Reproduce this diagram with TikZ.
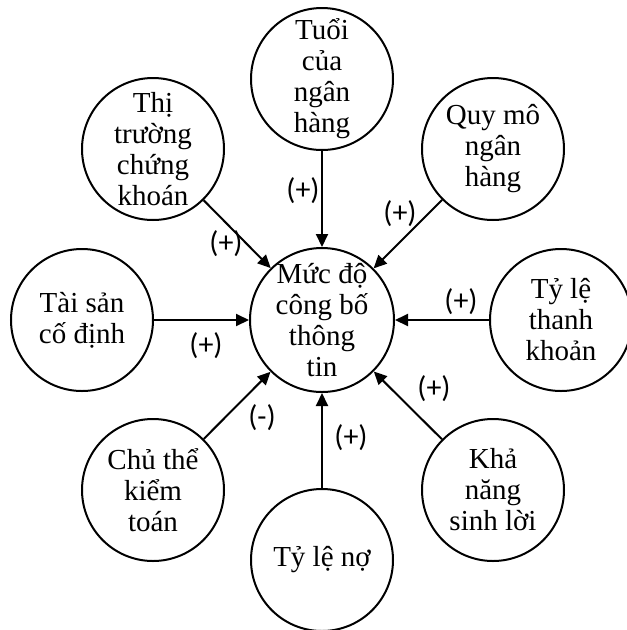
\documentclass[tikz,border=0pt]{standalone}
\usepackage{fontspec}
\setmainfont{Liberation Serif}
\newfontfamily\signfont{Carlito}
\usetikzlibrary{arrows.meta}

\begin{document}
\begin{tikzpicture}[x=1pt,y=-1pt,
  ring/.style={circle, draw, line width=2pt, minimum size=142pt, inner sep=0pt},
  hubring/.style={ring, minimum size=144pt},
  caption/.style={align=center, inner sep=0pt, font=\fontsize{29}{31}\selectfont},
  link/.style={line width=2pt, -{Triangle[length=13pt,width=12pt]}},
  sign/.style={inner sep=0pt, font=\signfont\fontsize{30}{32}\selectfont}]
\useasboundingbox (0,0) rectangle (627,630);

% central factor
\node[hubring] (core) at (322,320) {};
\node[caption] (core-text) at (core.center) {Mức độ\\công bố\\thông\\tin};

% surrounding factors
\node[ring] (age)    at (322,79)  {};
\node[ring] (market) at (153,149) {};
\node[ring] (size)   at (493,149) {};
\node[ring] (assets) at (82,320)  {};
\node[ring] (liquid) at (561,320) {};
\node[ring] (audit)  at (153,490) {};
\node[ring] (debt)   at (322,560) {};
\node[ring] (profit) at (493,490) {};

\node[caption] (age-text)    at (age.center)    {Tuổi\\của\\ngân\\hàng};
\node[caption] (market-text) at (market.center) {Thị\\trường\\chứng\\khoán};
\node[caption] (size-text)   at (size.center)   {Quy mô\\ngân\\hàng};
\node[caption] (assets-text) at (assets.center) {Tài sản\\cố định};
\node[caption] (liquid-text) at (liquid.center) {Tỷ lệ\\thanh\\khoản};
\node[caption] (audit-text)  at (audit.center)  {Chủ thể\\kiểm\\toán};
\node[caption] (debt-text)   at (debt.center)   {Tỷ lệ nợ};
\node[caption] (profit-text) at (profit.center) {Khả\\năng\\sinh lời};

% influences
\draw[link] (age)    -- (core);
\draw[link] (market) -- (core);
\draw[link] (size)   -- (core);
\draw[link] (assets) -- (core);
\draw[link] (liquid) -- (core);
\draw[link] (audit)  -- (core);
\draw[link] (debt)   -- (core);
\draw[link] (profit) -- (core);

% signs of the influences
\node[sign] (s-age)    at (303,191) {(+)};
\node[sign] (s-market) at (226,244) {(+)};
\node[sign] (s-size)   at (400,214) {(+)};
\node[sign] (s-assets) at (206,346) {(+)};
\node[sign] (s-liquid) at (461,302) {(+)};
\node[sign] (s-audit)  at (262,418) {(-)};
\node[sign] (s-debt)   at (351,438) {(+)};
\node[sign] (s-profit) at (434,389) {(+)};
\end{tikzpicture}
\end{document}
